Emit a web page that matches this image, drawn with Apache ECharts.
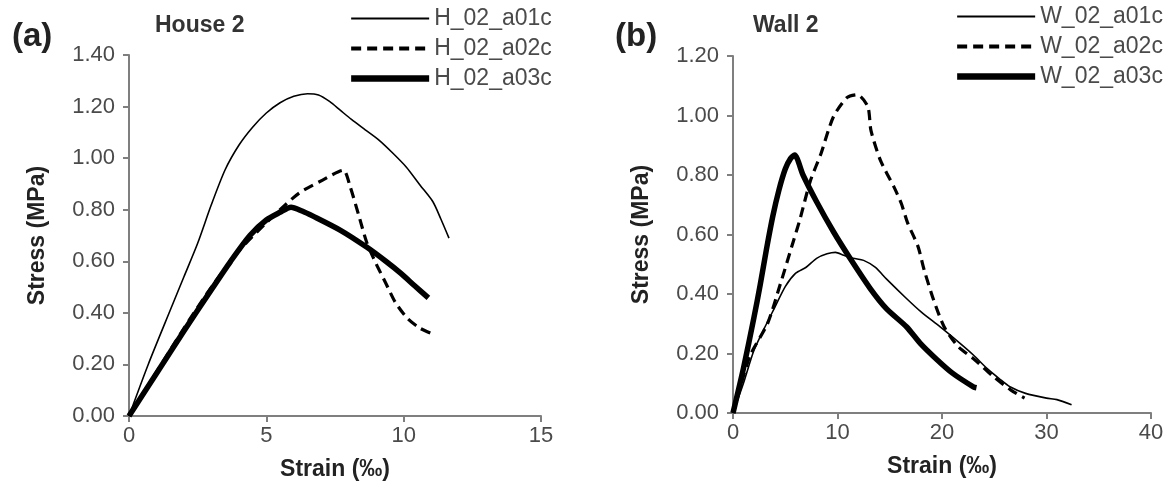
<!DOCTYPE html>
<html>
<head>
<meta charset="utf-8">
<script src="https://cdn.jsdelivr.net/npm/echarts@6/dist/echarts.min.js"></script>
<style>
  html, body { margin: 0; padding: 0; background: #fff; }
  #chart { width: 1172px; height: 495px; }
</style>
</head>
<body>
<div id="chart"></div>
<script>
// Stress–strain curves, [strain ‰, stress MPa]
const house_a01c = [[0,0],[0.7,0.2],[1.5,0.41],[2,0.54],[2.5,0.67],[3,0.82],[3.5,0.955],[4,1.05],[4.5,1.12],[5,1.175],[5.5,1.215],[6,1.24],[6.5,1.25],[6.9,1.245],[7.3,1.22],[7.7,1.185],[8.1,1.15],[8.6,1.11],[9.1,1.07],[9.6,1.02],[10.1,0.965],[10.6,0.895],[11.07,0.83],[11.35,0.765],[11.65,0.69]];
const house_a02c = [[0,0],[1,0.17],[2,0.34],[3,0.5],[4,0.64],[5,0.75],[5.5,0.8],[6.2,0.865],[7.05,0.915],[7.8,0.953],[8.05,0.89],[8.4,0.765],[8.65,0.675],[9,0.59],[9.35,0.515],[9.7,0.44],[10.15,0.377],[10.6,0.34],[11.05,0.318]];
const house_a03c = [[0,0],[1,0.165],[2,0.33],[3,0.49],[3.7,0.6],[4.4,0.7],[5,0.76],[5.5,0.79],[5.9,0.81],[6.3,0.795],[6.7,0.775],[7.7,0.72],[8.65,0.655],[9.35,0.6],[9.9,0.553],[10.4,0.505],[10.9,0.458]];

const wall_a01c = [[0,0],[1,0.1],[2,0.21],[3,0.285],[4,0.355],[5,0.425],[6,0.47],[7,0.49],[8,0.52],[9,0.535],[9.8,0.54],[10.6,0.53],[11.5,0.52],[12.5,0.513],[13.6,0.49],[14.7,0.45],[16.6,0.385],[18,0.34],[19.8,0.29],[21.7,0.235],[23,0.195],[24.3,0.15],[25.5,0.115],[26.5,0.088],[28,0.066],[30,0.05],[31,0.045],[32.4,0.028]];
const wall_a02c = [[0,0],[1.6,0.19],[3.3,0.3],[4.5,0.43],[5.8,0.58],[6.4,0.65],[7.4,0.78],[8.4,0.87],[9.6,0.995],[10.9,1.06],[11.9,1.07],[12.9,1.03],[13.2,0.95],[14.1,0.85],[15.4,0.76],[16.1,0.705],[16.7,0.64],[17.7,0.56],[18.3,0.48],[19.2,0.38],[20.2,0.29],[21.5,0.225],[23.1,0.18],[25,0.12],[26.6,0.077],[27.9,0.05]];
const wall_a03c = [[0,0],[1,0.15],[2,0.32],[2.6,0.43],[3.2,0.55],[3.8,0.66],[4.4,0.75],[5,0.82],[5.5,0.855],[5.9,0.867],[6.7,0.8],[8,0.71],[9.6,0.61],[11.2,0.52],[13.1,0.42],[14.7,0.35],[16.6,0.29],[17.9,0.235],[19.5,0.18],[21,0.134],[23,0.088],[23.3,0.085]];

const houseNames = ['H_02_a01c', 'H_02_a02c', 'H_02_a03c'];
const wallNames = ['W_02_a01c', 'W_02_a02c', 'W_02_a03c'];

const FONT = '"Liberation Sans", Arial, sans-serif';
const AXIS_GRAY = '#7f7f7f';
const LABEL_GRAY = '#4a4a4a';

// line looks shared by both panels: thin solid, dashed, heavy solid
const looks = [
  { width: 1.6, type: 'solid' },
  { width: 3.2, type: [10, 6] },
  { width: 5.5, type: 'solid' }
];

function xAxis(gridIndex, max, interval) {
  return {
    type: 'value', gridIndex, min: 0, max, interval,
    name: 'Strain (‰)', nameLocation: 'middle', nameGap: 42,
    nameTextStyle: { fontFamily: FONT, fontSize: 23, fontWeight: 'bold', color: '#222' },
    axisLine: { show: true, onZero: false, lineStyle: { color: AXIS_GRAY, width: 2 } },
    axisTick: { show: true, inside: false, length: 6, lineStyle: { color: AXIS_GRAY, width: 2 } },
    axisLabel: { fontFamily: FONT, fontSize: 22, color: LABEL_GRAY, margin: 9 },
    splitLine: { show: false }
  };
}
function yAxis(gridIndex, max) {
  return {
    type: 'value', gridIndex, min: 0, max, interval: 0.2,
    name: 'Stress (MPa)', nameLocation: 'middle', nameGap: 80,
    nameTextStyle: { fontFamily: FONT, fontSize: 23, fontWeight: 'bold', color: '#222' },
    axisLine: { show: true, onZero: false, lineStyle: { color: AXIS_GRAY, width: 2 } },
    axisTick: { show: true, inside: false, length: 6, lineStyle: { color: AXIS_GRAY, width: 2 } },
    axisLabel: { fontFamily: FONT, fontSize: 22, color: LABEL_GRAY, margin: 14,
      formatter: v => v.toFixed(2) },
    splitLine: { show: false }
  };
}
function curve(name, data, idx, look) {
  return {
    name, type: 'line', data, xAxisIndex: idx, yAxisIndex: idx,
    showSymbol: false, symbol: 'none', smooth: 0.25,
    lineStyle: { color: '#000', width: look.width, type: look.type, cap: 'butt', join: 'round' },
    itemStyle: { color: '#000' },
    animation: false
  };
}
function legend(left, top, names) {
  return {
    data: names.map((n, i) => ({
      name: n,
      lineStyle: { width: looks[i].width + (i === 0 ? 0.4 : 0.8), type: looks[i].type, color: '#000' }
    })),
    orient: 'vertical', left, top,
    itemWidth: 78, itemHeight: 14, itemGap: 7,
    textStyle: { fontFamily: FONT, fontSize: 23, color: LABEL_GRAY },
    itemStyle: { opacity: 0 },
    selectedMode: false
  };
}

const chart = echarts.init(document.getElementById('chart'), null, { renderer: 'canvas' });
chart.setOption({
  backgroundColor: '#fff',
  animation: false,
  grid: [
    { left: 129, top: 55, width: 412, height: 361 },
    { left: 733, top: 56, width: 418, height: 357 }
  ],
  xAxis: [xAxis(0, 15, 5), xAxis(1, 40, 10)],
  yAxis: [yAxis(0, 1.4), yAxis(1, 1.2)],
  legend: [legend(343, 2, houseNames), legend(949, 0, wallNames)],
  title: [
    { text: '(a)', left: 7, top: 15, textStyle: { fontFamily: FONT, fontSize: 33, fontWeight: 'bold', color: '#222' } },
    { text: 'House 2', left: 150, top: 9, textStyle: { fontFamily: FONT, fontSize: 23, fontWeight: 'bold', color: '#333' } },
    { text: '(b)', left: 610, top: 15, textStyle: { fontFamily: FONT, fontSize: 33, fontWeight: 'bold', color: '#222' } },
    { text: 'Wall 2', left: 748, top: 9, textStyle: { fontFamily: FONT, fontSize: 23, fontWeight: 'bold', color: '#333' } }
  ],
  series: [
    curve(houseNames[0], house_a01c, 0, looks[0]),
    curve(houseNames[1], house_a02c, 0, looks[1]),
    curve(houseNames[2], house_a03c, 0, looks[2]),
    curve(wallNames[0], wall_a01c, 1, looks[0]),
    curve(wallNames[1], wall_a02c, 1, looks[1]),
    curve(wallNames[2], wall_a03c, 1, looks[2])
  ]
});
</script>
</body>
</html>
